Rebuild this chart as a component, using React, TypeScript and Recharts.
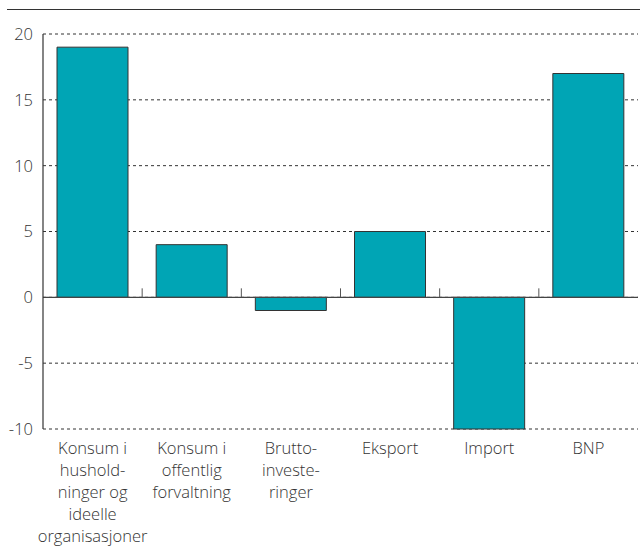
import React from "react";
import { BarChart, Bar, XAxis, YAxis, CartesianGrid, ReferenceLine } from "recharts";

const categories = [
  "Konsum i\nhushold-\nninger og\nideelle\norganisasjoner",
  "Konsum i\noffentlig\nforvaltning",
  "Brutto-\ninveste-\nringer",
  "Eksport",
  "Import",
  "BNP",
];
const values = [19, 4, -1, 5, -10, 17];
const yTicks = [-10, -5, 0, 5, 10, 15, 20];

const data = categories.map((c, i) => ({ name: c, value: values[i] }));

const FONT = "'Open Sans', 'Noto Sans', sans-serif";
const TEXT = "#333333";

const CatTick = (props: any) => {
  const { x, y, payload } = props;
  const lines = String(payload.value).split("\n");
  return (
    <text x={x} y={y} textAnchor="middle" fontFamily={FONT} fontSize={16.5} fontWeight={300} fill={TEXT}>
      {lines.map((l, i) => (
        <tspan key={i} x={x} dy={i === 0 ? 17 : 22}>
          {l}
        </tspan>
      ))}
    </text>
  );
};

const ZeroLine = (props: any) => {
  const { x1, x2, y1 } = props;
  const n = categories.length;
  const step = (x2 - x1) / n;
  const ticks = [];
  for (let i = 1; i < n; i++) {
    const tx = x1 + step * i;
    ticks.push(<line key={i} x1={tx} x2={tx} y1={y1} y2={y1 - 9} stroke="#555" strokeWidth={1} />);
  }
  return (
    <g>
      <line x1={x1} x2={x2} y1={y1} y2={y1} stroke="#444" strokeWidth={1.2} />
      {ticks}
    </g>
  );
};

export default function App() {
  return (
    <div style={{ position: "absolute", left: 0, top: 0, width: 640, height: 553, background: "#fff" }}>
      <div style={{ position: "absolute", left: 7, top: 9, width: 633, borderTop: "1.2px solid #333" }} />
      <BarChart
        width={640}
        height={553}
        data={data}
        margin={{ top: 34, right: 2, bottom: 0, left: 0 }}
        barCategoryGap={0}
      >
        <CartesianGrid vertical={false} stroke="#333" strokeDasharray="3 3" />
        <XAxis
          dataKey="name"
          height={124}
          axisLine={false}
          tickLine={false}
          interval={0}
          tick={<CatTick />}
        />
        <YAxis
          width={43}
          domain={[-10, 20]}
          ticks={yTicks}
          tickLine={false}
          axisLine={{ stroke: "#333", strokeWidth: 1.2 }}
          tick={{ fontFamily: FONT, fontSize: 16.5, fontWeight: 300, fill: TEXT }}
          tickMargin={4}
          interval={0}
        />
        <Bar dataKey="value" fill="#00a5b5" stroke="#333" strokeWidth={1} barSize={71} isAnimationActive={false} />
        <ReferenceLine y={0} shape={<ZeroLine />} ifOverflow="extendDomain" />
      </BarChart>
    </div>
  );
}
